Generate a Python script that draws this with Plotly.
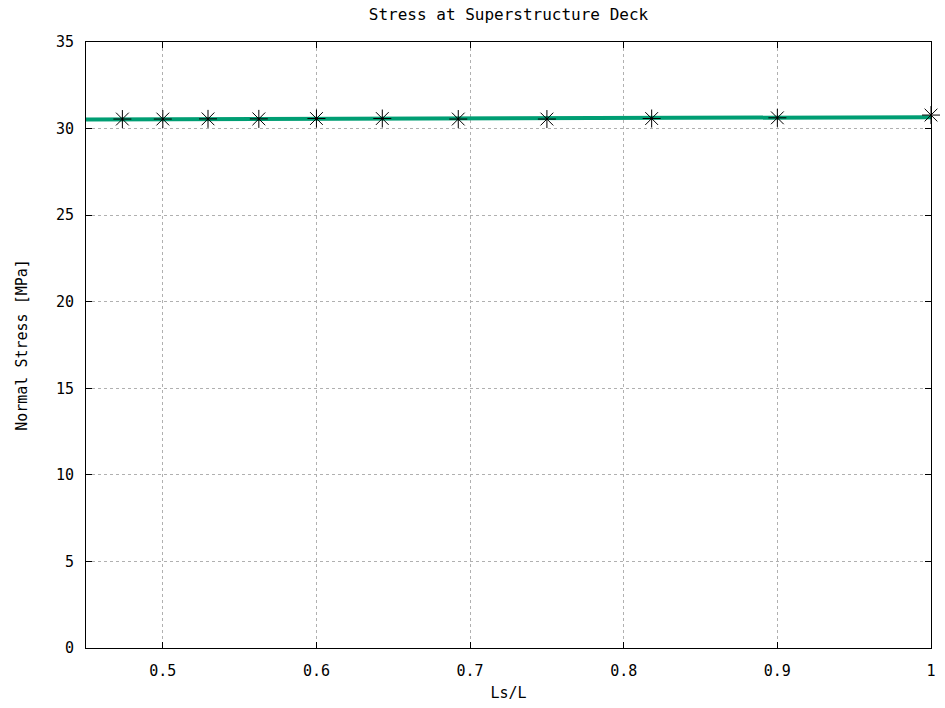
import plotly.graph_objects as go

# Data
ratio = [9/19, 9/18, 9/17, 9/16, 9/15, 9/14, 9/13, 9/12, 9/11, 9/10, 9/9]
stress = [30.55, 30.55, 30.56, 30.56, 30.58, 30.58, 30.55, 30.55, 30.58, 30.62, 30.78]
fit_x = [0.45, 1.0]
fit_y = [30.52, 30.66]
x_ticks = [0.5, 0.6, 0.7, 0.8, 0.9, 1.0]
x_tick_text = ["0.5", "0.6", "0.7", "0.8", "0.9", "1"]
y_ticks = [0, 5, 10, 15, 20, 25, 30, 35]

font = "DejaVu Sans Mono"
fnt = dict(family=font, size=15, color="black")

fig = go.Figure()
fig.add_trace(go.Scatter(x=fit_x, y=fit_y, mode="lines",
                         line=dict(color="#009e73", width=4), showlegend=False))
fig.add_trace(go.Scatter(x=ratio, y=stress, mode="markers",
                         marker=dict(symbol="asterisk-open", size=15, color="#000000",
                                     line=dict(color="#000000", width=1)),
                         showlegend=False, cliponaxis=False))

axis_common = dict(showline=True, linecolor="black", linewidth=1, mirror="ticks",
                   ticks="inside", ticklen=6, tickcolor="black",
                   showgrid=True, gridcolor="#b0b0b0", griddash="dot", gridwidth=1,
                   zeroline=False, tickfont=fnt)

fig.update_layout(
    width=945, height=708,
    margin=dict(l=86, r=9, t=42, b=59),
    paper_bgcolor="white", plot_bgcolor="white",
    title=dict(text="Stress at Superstructure Deck", x=0.5, xref="paper", xanchor="center",
               y=0.988, yanchor="top", font=dict(family=font, size=16, color="black")),
    xaxis=dict(range=[0.45, 1.0], tickvals=x_ticks, ticktext=x_tick_text,
               ticklabelstandoff=9,
               title=dict(text="Ls/L", font=fnt, standoff=8),
               **axis_common),
    yaxis=dict(range=[0, 35], tickvals=y_ticks, ticklabelstandoff=8,
               title=dict(text="Normal Stress [MPa]", font=fnt, standoff=24),
               **axis_common),
)

fig.write_html("out.html")
